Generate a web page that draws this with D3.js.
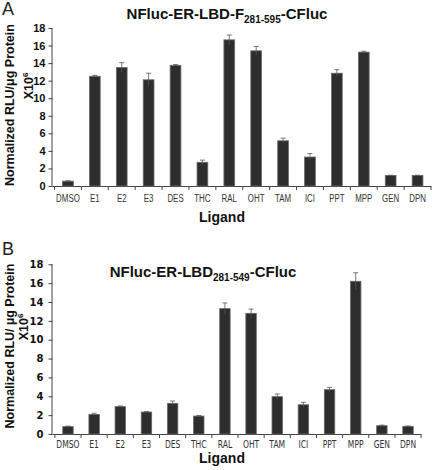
<!DOCTYPE html>
<html>
<head>
<meta charset="utf-8">
<script src="https://cdn.jsdelivr.net/npm/d3@7"></script>
<style>
  html, body { margin: 0; padding: 0; background: #fff; }
  svg { display: block; }
</style>
</head>
<body>
<svg id="chart" width="432" height="470"></svg>
<script>
// ---- data ----
const ligands = ["DMSO","E1","E2","E3","DES","THC","RAL","OHT","TAM","ICI","PPT","MPP","GEN","DPN"];
const yTicks = [0,2,4,6,8,10,12,14,16,18];
const valuesA = [0.55,12.5,13.5,12.1,13.75,2.7,16.65,15.4,5.15,3.3,12.85,15.25,1.2,1.2];
const errorsA = [0.05,0.1,0.55,0.75,0.08,0.25,0.55,0.5,0.3,0.4,0.4,0.1,0.03,0.03];
const valuesB = [0.78,2.08,2.9,2.33,3.25,1.9,13.3,12.8,3.96,3.1,4.7,16.2,0.88,0.81];
const errorsB = [0.06,0.12,0.08,0.06,0.25,0.06,0.6,0.45,0.28,0.26,0.25,0.9,0.06,0.05];

const svg = d3.select("#chart");

function panel(opts) {
  const g = svg.append("g");
  const x = d3.scaleBand().domain(ligands).range(opts.xRange).paddingInner(0.6).paddingOuter(0.3);
  const y = d3.scaleLinear().domain([0,18]).range(opts.yRange);
  const axisX = opts.axisX;

  // y axis
  const ya = g.append("g").attr("transform", `translate(${axisX},0)`)
    .call(d3.axisLeft(y).tickValues(yTicks).tickSize(4).tickPadding(opts.yPad).tickFormat(d3.format("d")));
  ya.select(".domain").attr("stroke", "#444").attr("d", `M-0.5,${opts.yRange[1]}V${opts.yRange[0]}`);
  ya.selectAll(".tick line").attr("stroke", "#444");
  ya.selectAll(".tick text").attr("fill", "#111")
    .style("font-family", opts.yFont).style("font-weight", "bold").style("font-size", opts.yFontSize);

  // x axis baseline
  const y0 = y(0);
  g.append("line").attr("x1", axisX).attr("x2", opts.xRange[1])
    .attr("y1", y0 + 0.5).attr("y2", y0 + 0.5).attr("stroke", "#444");
  // boundary ticks
  const step = x.step();
  const bounds = ligands.map(d => x(d) + x.bandwidth()/2 - step/2).concat([x(ligands[ligands.length-1]) + x.bandwidth()/2 + step/2]);
  g.selectAll(".bt").data(bounds).join("line")
    .attr("x1", d => d).attr("x2", d => d)
    .attr("y1", y0).attr("y2", y0 + 4).attr("stroke", "#444");

  // x labels
  const xa = g.append("g").attr("transform", `translate(0,${y0})`)
    .call(d3.axisBottom(x).tickSize(0).tickPadding(opts.xPad));
  xa.select(".domain").remove();
  xa.selectAll(".tick text").attr("fill", "#333")
    .style("font-family", opts.xFont).style("font-size", opts.xFontSize)
    .attr("transform", `scale(${opts.xScale},1)`);

  // bars
  g.selectAll(".bar").data(opts.values).join("rect")
    .attr("x", (d,i) => x(ligands[i]))
    .attr("width", x.bandwidth())
    .attr("y", d => y(d))
    .attr("height", d => y0 - y(d))
    .attr("fill", "#2d2d2d")
    .attr("stroke", "#6a6a6a")
    .attr("stroke-width", 0.8);

  // error bars
  const eb = g.selectAll(".err").data(opts.values).join("g");
  eb.append("line")
    .attr("x1", (d,i) => x(ligands[i]) + x.bandwidth()/2)
    .attr("x2", (d,i) => x(ligands[i]) + x.bandwidth()/2)
    .attr("y1", (d,i) => y(d + opts.errors[i]))
    .attr("y2", (d,i) => y(d - opts.errors[i]))
    .attr("stroke", "#555").attr("stroke-width", 0.8);
  eb.append("line")
    .attr("x1", (d,i) => x(ligands[i]) + x.bandwidth()/2 - 2.5)
    .attr("x2", (d,i) => x(ligands[i]) + x.bandwidth()/2 + 2.5)
    .attr("y1", (d,i) => y(d + opts.errors[i]))
    .attr("y2", (d,i) => y(d + opts.errors[i]))
    .attr("stroke", "#555").attr("stroke-width", 0.8);

  // panel letter
  svg.append("text").attr("x", 2).attr("y", opts.letterY)
    .style("font-family", "Liberation Sans, Arial, sans-serif").style("font-size", "18px")
    .attr("fill", "#222").text(opts.letter);

  // title
  const t = svg.append("text").attr("x", opts.titleX).attr("y", opts.titleY)
    .attr("text-anchor", "middle")
    .style("font-family", "Liberation Sans, Arial, sans-serif").style("font-weight", "bold")
    .style("font-size", "15px").attr("fill", "#111");
  t.append("tspan").text(opts.title[0]);
  t.append("tspan").attr("dy", 3.5).style("font-size", "10px").text(opts.title[1]);
  t.append("tspan").attr("dy", -3.5).text(opts.title[2]);

  // y title
  svg.append("text")
    .attr("transform", `translate(14,${opts.yTitleY}) rotate(-90)`)
    .attr("text-anchor", "middle")
    .style("font-family", "Liberation Sans, Arial, sans-serif").style("font-weight", "bold")
    .style("font-size", "12.5px").attr("fill", "#111")
    .text(opts.yTitle);
  const t2 = svg.append("text")
    .attr("transform", `translate(${opts.y2X},${opts.y2Y}) rotate(-90)`)
    .attr("text-anchor", "middle")
    .style("font-family", "Liberation Sans, Arial, sans-serif").style("font-weight", "bold")
    .style("font-size", "12.5px").attr("fill", "#111");
  t2.append("tspan").text("X10");
  t2.append("tspan").attr("dy", -5).style("font-size", "8px").text("6");

  // x title
  svg.append("text").attr("x", 222).attr("y", opts.xTitleY)
    .attr("text-anchor", "middle")
    .style("font-family", "Liberation Sans, Arial, sans-serif").style("font-weight", "bold")
    .style("font-size", "14px").attr("fill", "#111").text("Ligand");
}

panel({
  letter: "A", letterY: 15,
  xRange: [54.5, 431], yRange: [186, 28], axisX: 52.5,
  values: valuesA, errors: errorsA,
  yFont: "Liberation Sans, Arial, sans-serif", yFontSize: "11px", yPad: 3,
  xFont: "Liberation Sans, Arial, sans-serif", xFontSize: "11px", xPad: 8, xScale: 0.72,
  title: ["NFluc-ER-LBD-F", "281-595", "-CFluc"], titleX: 227, titleY: 19,
  yTitle: "Normalized RLU/\u03bcg Protein", yTitleY: 105, y2X: 33, y2Y: 86,
  xTitleY: 222
});

panel({
  letter: "B", letterY: 255,
  xRange: [54.9, 421.1], yRange: [434, 264.3], axisX: 52.5,
  values: valuesB, errors: errorsB,
  yFont: "DejaVu Sans, Verdana, sans-serif", yFontSize: "10px", yPad: 5,
  xFont: "DejaVu Sans, Verdana, sans-serif", xFontSize: "10px", xPad: 7, xScale: 0.76,
  title: ["NFluc-ER-LBD", "281-549", "-CFluc"], titleX: 203, titleY: 277,
  yTitle: "Normalized RLU/ \u00b5g Protein", yTitleY: 346, y2X: 28, y2Y: 327,
  xTitleY: 463
});
</script>
</body>
</html>
